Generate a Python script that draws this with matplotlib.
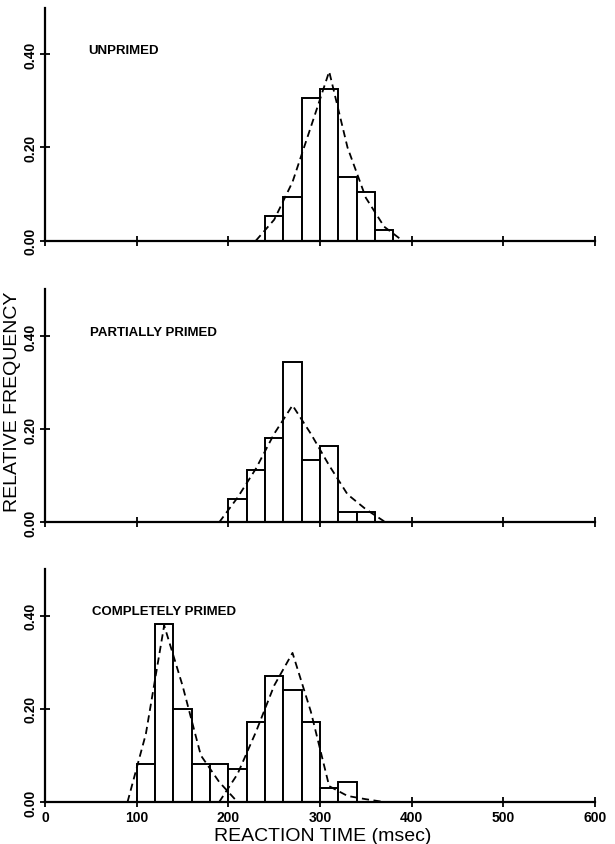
import matplotlib
matplotlib.use("Agg")
import matplotlib.pyplot as plt

# all three histograms use 20 ms bins
bin_width = 20

# unprimed condition
unprimed_start = 240
unprimed_freq = [0.052, 0.094, 0.306, 0.326, 0.136, 0.104, 0.022]
unprimed_curve_x = [230, 250, 270, 290, 310, 330, 350, 370, 390]
unprimed_curve_y = [0.0, 0.045, 0.126, 0.244, 0.363, 0.200, 0.092, 0.030, 0.0]

# partially primed condition
partial_start = 200
partial_freq = [0.051, 0.112, 0.182, 0.343, 0.134, 0.164, 0.023, 0.023]
partial_curve_x = [190, 210, 230, 250, 270, 290, 310, 330, 350, 370]
partial_curve_y = [0.0, 0.053, 0.115, 0.190, 0.251, 0.190, 0.122, 0.060, 0.028, 0.002]

# completely primed condition (two dashed curves)
complete_start = 100
complete_freq = [0.081, 0.381, 0.200, 0.081, 0.081, 0.070,
                 0.172, 0.271, 0.241, 0.172, 0.031, 0.042]
complete_curve1_x = [90, 110, 130, 150, 170, 190, 210]
complete_curve1_y = [0.0, 0.146, 0.379, 0.250, 0.100, 0.043, 0.0]
complete_curve2_x = [190, 210, 230, 250, 270, 290, 310, 330, 350, 370]
complete_curve2_y = [0.0, 0.060, 0.150, 0.250, 0.320, 0.194, 0.034, 0.013, 0.006, 0.0]

panel_names = ["UNPRIMED", "PARTIALLY PRIMED", "COMPLETELY PRIMED"]
x_ticks = [0, 100, 200, 300, 400, 500, 600]
y_ticks = [0.0, 0.2, 0.4]
y_tick_labels = ["0.00", "0.20", "0.40"]

plt.rcParams["font.family"] = ["Liberation Sans", "DejaVu Sans"]

fig = plt.figure(figsize=(6.15, 8.45), dpi=100)

panel_bottoms = [0.714, 0.3807, 0.0497]
label_x = [47, 49, 51]
axes = []
for b in panel_bottoms:
    axes.append(fig.add_axes([0.0732, b, 0.8943, 0.2757]))

panels = [
    (unprimed_start, unprimed_freq, [(unprimed_curve_x, unprimed_curve_y)]),
    (partial_start, partial_freq, [(partial_curve_x, partial_curve_y)]),
    (complete_start, complete_freq, [(complete_curve1_x, complete_curve1_y),
                                     (complete_curve2_x, complete_curve2_y)]),
]

for i, (ax, (start, freq, curves)) in enumerate(zip(axes, panels)):
    lefts = [start + k * bin_width for k in range(len(freq))]
    ax.bar(lefts, freq, width=bin_width, align="edge", color="white",
           edgecolor="black", linewidth=1.4, zorder=2)
    for cx, cy in curves:
        ax.plot(cx, cy, color="black", linewidth=1.3, linestyle=(0, (4, 2.5)), zorder=3)

    ax.set_xlim(0, 600)
    ax.set_ylim(0, 0.5)
    ax.spines["top"].set_visible(False)
    ax.spines["right"].set_visible(False)
    ax.spines["left"].set_linewidth(1.6)
    ax.spines["bottom"].set_linewidth(1.6)
    ax.spines["bottom"].set_zorder(4)

    ax.set_xticks(x_ticks)
    ax.set_yticks(y_ticks)
    ax.set_yticklabels(y_tick_labels, rotation=90, va="center",
                       fontsize=10, fontweight="bold")
    ax.tick_params(direction="inout", length=7, width=1.3)
    ax.tick_params(axis="y", pad=2)
    if i < 2:
        ax.tick_params(axis="x", labelbottom=False)
    else:
        ax.set_xticklabels([str(t) for t in x_ticks], fontsize=10, fontweight="bold")
        ax.tick_params(axis="x", pad=2)

    ax.text(label_x[i], 0.409, panel_names[i], va="center", ha="left",
            fontsize=9.5, fontweight="bold")

fig.text(0.021, 0.524, "RELATIVE FREQUENCY", rotation=90, ha="center", va="center",
         fontsize=14)
fig.text(0.525, 0.0105, "REACTION TIME (msec)", ha="center", va="center", fontsize=14)

fig.savefig("out.png", dpi=100)
